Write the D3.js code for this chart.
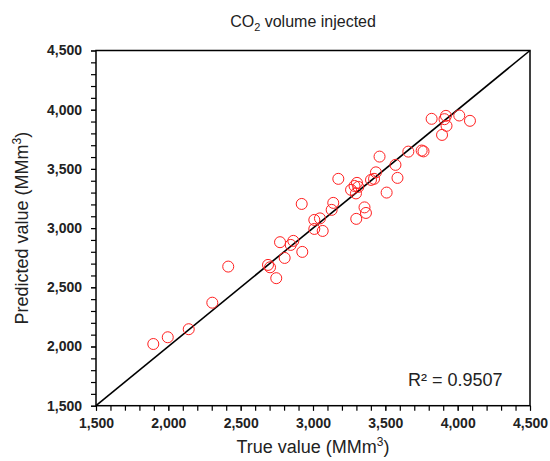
<!DOCTYPE html>
<html>
<head>
<meta charset="utf-8">
<script src="https://cdn.jsdelivr.net/npm/d3@7"></script>
<style>
  body { margin: 0; background: #fff; }
  text { font-family: "Liberation Sans", Arial, sans-serif; }
</style>
</head>
<body>
<div id="chart"></div>
<script>
const trueValues = [
  1896, 1996, 2141, 2304, 2414, 2689, 2703, 2746, 2804, 2772,
  2864, 2846, 2926, 2922, 3009, 3048, 3009, 3067, 3140, 3129,
  3175, 3263, 3287, 3304, 3313, 3297, 3299, 3356, 3366, 3401,
  3422, 3435, 3460, 3509, 3570, 3584, 3659, 3751, 3764, 3820,
  3909, 3919, 3923, 3892, 4011, 4085
];
const predictedValues = [
  2021, 2078, 2146, 2370, 2675, 2689, 2669, 2577, 2748, 2881,
  2892, 2858, 2799, 3204, 3069, 3082, 2993, 2976, 3213, 3154,
  3416, 3323, 3356, 3382, 3348, 3293, 3078, 3175, 3128, 3407,
  3416, 3471, 3604, 3300, 3534, 3424, 3646, 3655, 3648, 3923,
  3920, 3948, 3864, 3787, 3951, 3906
];
const tickValues = [1500, 2000, 2500, 3000, 3500, 4000, 4500];
const r2Label = "R² = 0.9507";

const width = 550;
const height = 461;
const margin = { top: 50.5, right: 20, bottom: 55.3, left: 96 };

const svg = d3
  .select("#chart")
  .append("svg")
  .attr("width", width)
  .attr("height", height);

const xScale = d3
  .scaleLinear()
  .domain([1500, 4500])
  .range([margin.left, 530]);

const yScale = d3
  .scaleLinear()
  .domain([1500, 4500])
  .range([height - margin.bottom, margin.top]);

const minorTicks = d3.range(1500, 4501, 100);
const fmt = d3.format(",");

// minor ticks
svg
  .append("g")
  .attr("transform", `translate(0, ${yScale(1500)})`)
  .call(d3.axisBottom(xScale).tickValues(minorTicks).tickSize(5).tickFormat(""))
  .call((g) => g.select(".domain").remove())
  .call((g) => g.selectAll("line").attr("stroke-width", 1.2));

svg
  .append("g")
  .attr("transform", `translate(${xScale(1500)}, 0)`)
  .call(d3.axisLeft(yScale).tickValues(minorTicks).tickSize(5).tickFormat(""))
  .call((g) => g.select(".domain").remove())
  .call((g) => g.selectAll("line").attr("stroke-width", 1.2));

// major labels
const xAxis = svg
  .append("g")
  .attr("transform", `translate(0, ${yScale(1500)})`)
  .call(d3.axisBottom(xScale).tickValues(tickValues).tickSize(5).tickPadding(7).tickFormat(fmt))
  .call((g) => g.select(".domain").remove());
xAxis
  .selectAll("text")
  .attr("fill", "#222")
  .style("font-size", "14px")
  .style("font-weight", "bold");

const yAxis = svg
  .append("g")
  .attr("transform", `translate(${xScale(1500)}, 0)`)
  .call(d3.axisLeft(yScale).tickValues(tickValues).tickSize(5).tickPadding(9).tickFormat(fmt))
  .call((g) => g.select(".domain").remove());
yAxis
  .selectAll("text")
  .attr("fill", "#222")
  .style("font-size", "14px")
  .style("font-weight", "bold");

// frame
svg
  .append("rect")
  .attr("x", xScale(1500))
  .attr("y", yScale(4500))
  .attr("width", xScale(4500) - xScale(1500))
  .attr("height", yScale(1500) - yScale(4500))
  .attr("fill", "none")
  .attr("stroke", "#000")
  .attr("stroke-width", 1.5);

// 1:1 line
svg
  .append("line")
  .attr("x1", xScale(1500))
  .attr("y1", yScale(1500))
  .attr("x2", xScale(4500))
  .attr("y2", yScale(4500))
  .attr("stroke", "#000")
  .attr("stroke-width", 1.6);

// points
svg
  .append("g")
  .selectAll("circle")
  .data(trueValues)
  .join("circle")
  .attr("cx", (d) => xScale(d))
  .attr("cy", (d, i) => yScale(predictedValues[i]))
  .attr("r", 5.5)
  .attr("fill", "none")
  .attr("stroke", "#ff2020")
  .attr("stroke-width", 1);

// R2
svg
  .append("text")
  .attr("x", 408)
  .attr("y", 386)
  .style("font-size", "18px")
  .attr("fill", "#222")
  .text(r2Label);

// title
const title = svg
  .append("text")
  .attr("x", 303)
  .attr("y", 27)
  .attr("text-anchor", "middle")
  .style("font-size", "16px")
  .attr("fill", "#222");
title.append("tspan").text("CO");
title.append("tspan").attr("dy", 4).style("font-size", "11px").text("2");
title.append("tspan").attr("dy", -4).text(" volume injected");

// axis titles
const xTitle = svg
  .append("text")
  .attr("x", 313)
  .attr("y", 453)
  .attr("text-anchor", "middle")
  .style("font-size", "18px")
  .attr("fill", "#222");
xTitle.append("tspan").text("True value (MMm");
xTitle.append("tspan").attr("dy", -7).style("font-size", "12px").text("3");
xTitle.append("tspan").attr("dy", 7).text(")");

const yTitle = svg
  .append("text")
  .attr("transform", `translate(28, ${(yScale(1500) + yScale(4500)) / 2}) rotate(-90)`)
  .attr("text-anchor", "middle")
  .style("font-size", "18px")
  .attr("fill", "#222");
yTitle.append("tspan").text("Predicted value (MMm");
yTitle.append("tspan").attr("dy", -7).style("font-size", "12px").text("3");
yTitle.append("tspan").attr("dy", 7).text(")");
</script>
</body>
</html>
